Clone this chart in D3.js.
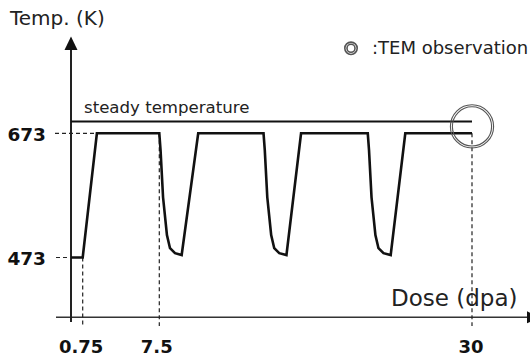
<!DOCTYPE html>
<html><head><meta charset="utf-8">
<script src="https://cdn.jsdelivr.net/npm/d3@7"></script>
<style>body{margin:0;background:#fff}svg{display:block}</style>
</head><body>
<svg id="c" width="530" height="363"></svg>
<script>
// ---- data ----
const doseTicks = [0.75, 7.5, 30];
const doseTickLabels = ["0.75", "7.5", "30"];
const tempTicks = [473, 673];
const tempTickLabels = ["473", "673"];
const steadyTemp = 692;          // schematic level of "steady temperature" line
const observationDose = 30;
const profileDose = [0, 0.75, 2.0, 7.5, 7.59, 7.77, 8.05, 8.27, 8.63, 9.11, 10.3,
  15.0, 15.09, 15.27, 15.55, 15.77, 16.13, 16.65, 17.7,
  22.5, 22.59, 22.77, 23.05, 23.27, 23.63, 24.15, 25.2, 30];
const profileTemp = [473, 473, 673, 673, 646, 570, 509, 488, 480, 477, 673,
  673, 646, 570, 509, 488, 480, 477, 673,
  673, 646, 570, 509, 488, 480, 477, 673, 673];

// ---- scales (schematic, piecewise dose axis) ----
const x = d3.scaleLinear().domain([0, 0.75, 7.5, 30]).range([71, 82.7, 159.3, 472]);
const y = d3.scaleLinear().domain([473, 673]).range([257.5, 133.3]);
const svg = d3.select("#c");
const axisY = 317.3, axisX = 71;

// x axis line + arrow
svg.append("line").attr("x1", 56).attr("x2", 528).attr("y1", axisY).attr("y2", axisY)
  .attr("stroke", "#333").attr("stroke-width", 1.5);
svg.append("path").attr("d", `M527,${axisY-6}L540,${axisY}L527,${axisY+6}Z`).attr("fill", "#111");
// y axis line + arrow
svg.append("line").attr("x1", axisX).attr("x2", axisX).attr("y1", 322).attr("y2", 46)
  .attr("stroke", "#222").attr("stroke-width", 2);
svg.append("path").attr("d", `M${axisX-6.5},50L${axisX},36.5L${axisX+6.5},50Z`).attr("fill", "#111");

const dash = {stroke: "#222", "stroke-width": 1.2, "stroke-dasharray": "4,3"};
function dl(x1, y1, x2, y2) {
  const l = svg.append("line").attr("x1", x1).attr("y1", y1).attr("x2", x2).attr("y2", y2);
  Object.entries(dash).forEach(([k, v]) => l.attr(k, v));
}
// horizontal dashed guides
dl(55, y(673), x(2.0), y(673));
dl(56, y(473), axisX, y(473));
// vertical dashed guides
dl(x(0.75), y(473), x(0.75), 326);
dl(x(7.5), y(673), x(7.5), 326);
dl(x(30), y(673), x(30), 326);

// steady temperature line
svg.append("line").attr("x1", axisX).attr("x2", x(30)).attr("y1", y(steadyTemp)).attr("y2", y(steadyTemp))
  .attr("stroke", "#111").attr("stroke-width", 2);

// temperature profile
const pts = profileDose.map((d, i) => [d, profileTemp[i]]);
svg.append("path").datum(pts)
  .attr("d", d3.line().x(d => x(d[0])).y(d => y(d[1])))
  .attr("fill", "none").attr("stroke", "#111").attr("stroke-width", 2.6).attr("stroke-linejoin", "miter");

// observation circle (double ring)
const cy = (y(steadyTemp) + y(673)) / 2 - 1;
[19.6, 21.6].forEach(r => svg.append("circle").attr("cx", x(observationDose)).attr("cy", cy).attr("r", r)
  .attr("fill", "none").attr("stroke", "#555").attr("stroke-width", 1.1));

// legend
[4, 6.2].forEach(r => svg.append("circle").attr("cx", 351).attr("cy", 48.3).attr("r", r)
  .attr("fill", "none").attr("stroke", "#555").attr("stroke-width", 1.6));
svg.append("text").attr("x", 372).attr("y", 54.3).text(":TEM observation")
  .attr("font-family", "DejaVu Sans").attr("font-size", 18).attr("fill", "#222");

// labels
svg.append("text").attr("x", 10).attr("y", 25).text("Temp. (K)")
  .attr("font-family", "DejaVu Sans").attr("font-size", 20).attr("fill", "#222");
svg.append("text").attr("x", 84).attr("y", 113.3).text("steady temperature")
  .attr("font-family", "DejaVu Sans").attr("font-size", 16.6).attr("fill", "#222");
svg.append("text").attr("x", 391).attr("y", 306).text("Dose (dpa)")
  .attr("font-family", "DejaVu Sans").attr("font-size", 23).attr("fill", "#222");

// tick labels
svg.selectAll(".xt").data(doseTicks).enter().append("text")
  .attr("x", (d, i) => x(d) + [-1.5, -2.5, -1][i]).attr("y", 353).attr("text-anchor", "middle")
  .text((d, i) => doseTickLabels[i])
  .attr("font-family", "DejaVu Sans").attr("font-weight", "bold").attr("font-size", 18).attr("fill", "#111");
svg.selectAll(".yt").data(tempTicks).enter().append("text")
  .attr("x", 46).attr("y", d => y(d) + 7.5).attr("text-anchor", "end")
  .text((d, i) => tempTickLabels[i])
  .attr("font-family", "DejaVu Sans").attr("font-weight", "bold").attr("font-size", 18.5).attr("fill", "#111");
</script>
</body></html>
